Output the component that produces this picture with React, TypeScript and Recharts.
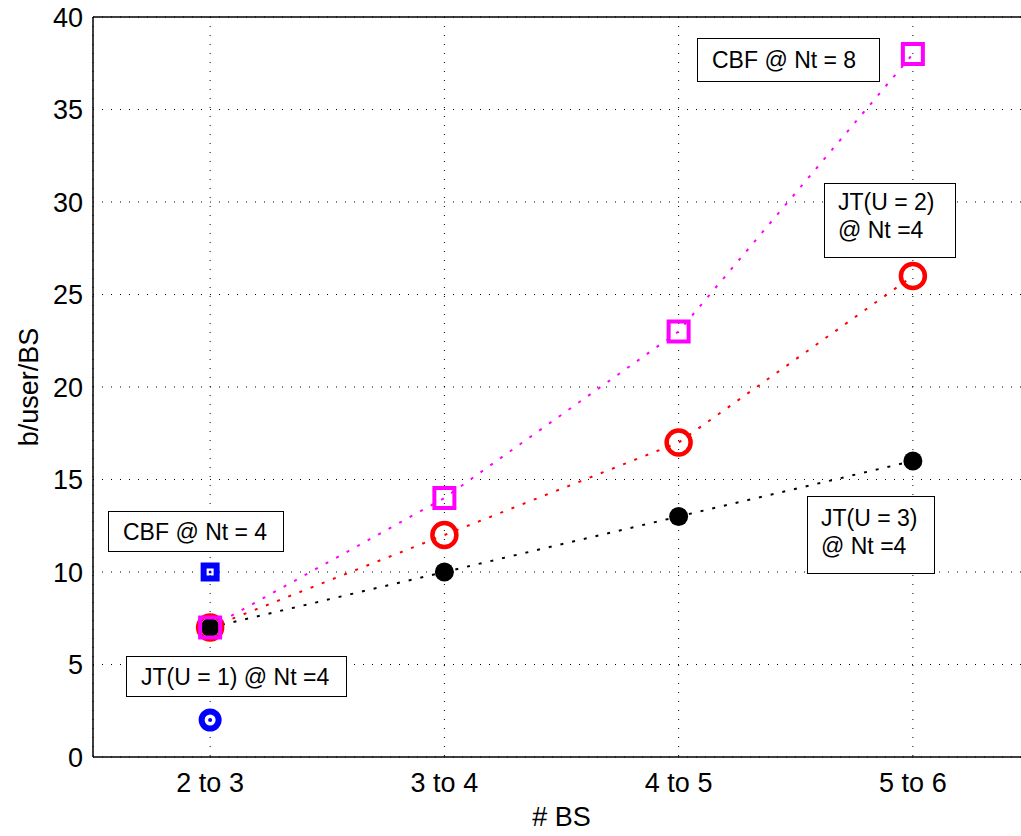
import React from "react";
import {
  LineChart,
  Line,
  XAxis,
  YAxis,
  CartesianGrid,
  ReferenceLine,
} from "recharts";

const categories = ["2 to 3", "3 to 4", "4 to 5", "5 to 6"];
const cbfNt8 = [7, 14, 23, 38];
const jtU2 = [7, 12, 17, 26];
const jtU3 = [7, 10, 13, 16];
const cbfNt4 = [10, null, null, null];
const jtU1 = [2, null, null, null];
const yTicks = [0, 5, 10, 15, 20, 25, 30, 35, 40];

const data = categories.map((c, i) => ({
  x: i + 1,
  cbfNt8: cbfNt8[i],
  jtU2: jtU2[i],
  jtU3: jtU3[i],
  cbfNt4: cbfNt4[i],
  jtU1: jtU1[i],
}));

const FONT = "'Liberation Sans', Arial, Helvetica, sans-serif";

// marker renderers
const MagentaSquare = (p: any) =>
  p.cy == null ? <g key={p.key} /> : (
    <rect key={p.key} x={p.cx - 10} y={p.cy - 10} width={20} height={20}
      fill="none" stroke="#ff00ff" strokeWidth={4} />
  );
const RedCircle = (p: any) =>
  p.cy == null ? <g key={p.key} /> : (
    <circle key={p.key} cx={p.cx} cy={p.cy} r={12} fill="none" stroke="#ff0000" strokeWidth={4.5} />
  );
const BlackDot = (p: any) =>
  p.cy == null ? <g key={p.key} /> : (
    <circle key={p.key} cx={p.cx} cy={p.cy} r={9.5} fill="#000" />
  );
const BlueSquare = (p: any) =>
  p.cy == null ? <g key={p.key} /> : (
    <g key={p.key}>
      <rect x={p.cx - 6.5} y={p.cy - 6.5} width={13} height={13} fill="none" stroke="#0000ff" strokeWidth={6} />
      <circle cx={p.cx} cy={p.cy} r={1.5} fill="#0000ff" />
    </g>
  );
const BlueCircle = (p: any) =>
  p.cy == null ? <g key={p.key} /> : (
    <g key={p.key}>
      <circle cx={p.cx} cy={p.cy} r={8.5} fill="none" stroke="#0000ff" strokeWidth={6} />
      <circle cx={p.cx} cy={p.cy} r={2} fill="#0000ff" />
    </g>
  );

const boxStyle: React.CSSProperties = {
  position: "absolute",
  border: "1.5px solid #000",
  background: "#fff",
  fontFamily: FONT,
  fontSize: 23,
  lineHeight: "28px",
  color: "#000",
  boxSizing: "border-box",
  whiteSpace: "nowrap",
};

export default function App() {
  return (
    <div style={{ position: "absolute", left: 0, top: 0, width: 1021, height: 836, overflow: "hidden", background: "#fff" }}>
      <LineChart
        width={1050}
        height={836}
        data={data}
        margin={{ top: 17, right: 20, left: 0, bottom: 0 }}
        style={{ fontFamily: FONT }}
      >
        <CartesianGrid stroke="#000" strokeDasharray="1 8" strokeWidth={1} />
        <XAxis
          dataKey="x"
          type="number"
          domain={[0.5, 4.5]}
          ticks={[1, 2, 3, 4]}
          tickFormatter={(v: number) => categories[v - 1]}
          tickLine={false}
          tickSize={0}
          tickMargin={16}
          height={79}
          axisLine={{ stroke: "#000", strokeWidth: 1.5 }}
          tick={{ fill: "#000", fontSize: 27 }}
          label={{ value: "# BS", position: "insideBottom", offset: 10, fill: "#000", fontSize: 27 }}
        />
        <YAxis
          domain={[0, 40]}
          ticks={yTicks}
          width={93}
          tickLine={false}
          tickSize={0}
          tickMargin={10}
          axisLine={{ stroke: "#000", strokeWidth: 1.5 }}
          tick={{ fill: "#000", fontSize: 27 }}
          label={{
            value: "b/user/BS",
            angle: -90,
            position: "insideLeft",
            offset: 28,
            fill: "#000",
            fontSize: 27,
            style: { textAnchor: "middle" },
          }}
        />
        <ReferenceLine y={40} stroke="#000" strokeWidth={1.5} />
        <ReferenceLine x={4.5} stroke="#000" strokeWidth={1.5} />
        <Line dataKey="jtU2" stroke="#ff0000" strokeWidth={2} strokeDasharray="3 9"
          dot={RedCircle} activeDot={false} isAnimationActive={false} />
        <Line dataKey="jtU3" stroke="#000" strokeWidth={2} strokeDasharray="3 9"
          dot={BlackDot} activeDot={false} isAnimationActive={false} />
        <Line dataKey="cbfNt8" stroke="#ff00ff" strokeWidth={2} strokeDasharray="3 9"
          dot={MagentaSquare} activeDot={false} isAnimationActive={false} />
        <Line dataKey="cbfNt4" stroke="none" dot={BlueSquare} activeDot={false} isAnimationActive={false} />
        <Line dataKey="jtU1" stroke="none" dot={BlueCircle} activeDot={false} isAnimationActive={false} />
      </LineChart>

      <div style={{ ...boxStyle, left: 697, top: 38, width: 183, height: 44, paddingLeft: 14, display: "flex", alignItems: "center" }}>
        CBF @ Nt = 8
      </div>
      <div style={{ ...boxStyle, left: 824, top: 183, width: 132, height: 75, paddingLeft: 13, paddingTop: 4 }}>
        JT(U = 2)<br />@ Nt =4
      </div>
      <div style={{ ...boxStyle, left: 807, top: 496, width: 128, height: 78, paddingLeft: 13, paddingTop: 7 }}>
        JT(U = 3)<br />@ Nt =4
      </div>
      <div style={{ ...boxStyle, left: 108, top: 511, width: 176, height: 41, paddingLeft: 14, display: "flex", alignItems: "center" }}>
        CBF @ Nt = 4
      </div>
      <div style={{ ...boxStyle, left: 126, top: 656, width: 221, height: 41, paddingLeft: 14, display: "flex", alignItems: "center" }}>
        JT(U = 1) @ Nt =4
      </div>
    </div>
  );
}
